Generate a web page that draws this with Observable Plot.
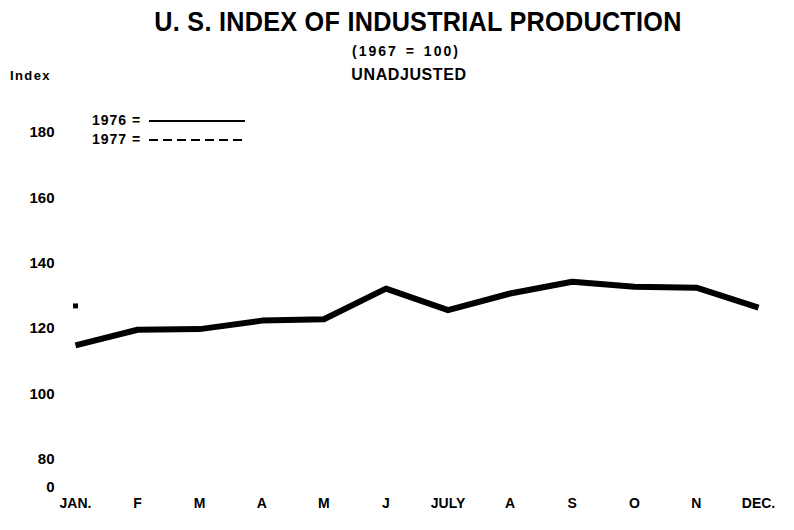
<!DOCTYPE html>
<html>
<head>
<meta charset="utf-8">
<script src="https://cdn.jsdelivr.net/npm/d3@7"></script>
<script src="https://cdn.jsdelivr.net/npm/@observablehq/plot@0.6"></script>
<style>
  html, body { margin: 0; padding: 0; background: #fff; }
  #wrap { position: relative; width: 794px; height: 530px; overflow: hidden; font-family: "Liberation Sans", Arial, sans-serif; font-weight: bold; color: #000; }
  .abs { position: absolute; white-space: nowrap; }
  #title { left: 0; width: 836px; top: 6px; text-align: center; font-size: 28px; transform: scaleX(0.9); transform-origin: 418px 0; letter-spacing: 0.3px; }
  #sub { left: 0; width: 812px; top: 43px; text-align: center; font-size: 14px; letter-spacing: 2px; word-spacing: 2px; }
  #unadj { left: 0; width: 818px; top: 66px; text-align: center; font-size: 16px; letter-spacing: 0.6px; }
  #idx { left: 10px; top: 68px; font-size: 13px; letter-spacing: 1.4px; }
  #legend { left: 92px; top: 111px; font-size: 14px; letter-spacing: 1px; }
  #legend .row { position: relative; height: 19px; width: 160px; }
  #legend .row span { position: absolute; left: 0; top: 1px; }
  #legend .row svg { position: absolute; left: 56px; top: 7px; }
  #chart { position: absolute; left: 0; top: 95px; }
</style>
</head>
<body>
<div id="wrap">
  <div id="title" class="abs">U. S. INDEX OF INDUSTRIAL PRODUCTION</div>
  <div id="sub" class="abs">(1967 = 100)</div>
  <div id="unadj" class="abs">UNADJUSTED</div>
  <div id="idx" class="abs">Index</div>
  <div id="chart"></div>
  <div id="legend" class="abs"></div>
</div>
<script>
// Month positions 0..11 and their printed labels
const monthIndex = [0, 1, 2, 3, 4, 5, 6, 7, 8, 9, 10, 11];
const monthLabels = ["JAN.", "F", "M", "A", "M", "J", "JULY", "A", "S", "O", "N", "DEC."];

// 1976 monthly index (1967 = 100), unadjusted
const values1976 = [114.8, 119.6, 119.8, 122.4, 122.8, 132.2, 125.6, 130.7, 134.3, 132.8, 132.5, 126.4];
// 1977: only January plotted
const months1977 = [0];
const values1977 = [126.9];

// Y tick positions and labels (broken axis: bottom tick printed as "0")
const yTickValues = [71.3, 80, 100, 120, 140, 160, 180];
const yTickLabels = ["0", "80", "100", "120", "140", "160", "180"];

// Legend
const legendYears = ["1976", "1977"];
const legendDash = ["none", "9,5"];

const data1976 = monthIndex.map((m, i) => ({month: m, value: values1976[i]}));
const data1977 = months1977.map((m, i) => ({month: m, value: values1977[i]}));

const chart = Plot.plot({
  width: 794,
  height: 435,
  marginLeft: 75,
  marginRight: 36,
  marginTop: 37,
  marginBottom: 43,
  style: {fontFamily: "'Liberation Sans', Arial, sans-serif", fontWeight: "bold", fontSize: "15px", background: "white", color: "#000"},
  x: {domain: [0, 11], ticks: monthIndex, tickFormat: (d) => monthLabels[d]},
  y: {domain: [yTickValues[0], 180], ticks: yTickValues, tickFormat: (d) => yTickLabels[yTickValues.indexOf(d)]},
  marks: [
    Plot.axisX({ticks: monthIndex, tickFormat: (d) => monthLabels[d], tickSize: 0, tickPadding: 11, label: null, fontSize: 14, fontWeight: "bold"}),
    Plot.axisY({ticks: yTickValues, tickFormat: (d) => yTickLabels[yTickValues.indexOf(d)], tickSize: 0, tickPadding: 21, label: null, fontSize: 15, fontWeight: "bold"}),
    Plot.line(data1976, {x: "month", y: "value", stroke: "#000", strokeWidth: 6, strokeLinejoin: "round", strokeLinecap: "butt"}),
    Plot.dot(data1977, {x: "month", y: "value", symbol: "square", r: 2.8, fill: "#000", stroke: "none"})
  ]
});
document.getElementById("chart").appendChild(chart);

// Legend rows (HTML + small svg samples)
const legend = document.getElementById("legend");
legendYears.forEach((yr, i) => {
  const row = document.createElement("div");
  row.className = "row";
  row.innerHTML = `<span>${yr} =</span><svg width="98" height="6"><line x1="1" y1="3" x2="97" y2="3" stroke="#000" stroke-width="2" stroke-dasharray="${legendDash[i]}"/></svg>`;
  legend.appendChild(row);
});
</script>
</body>
</html>
